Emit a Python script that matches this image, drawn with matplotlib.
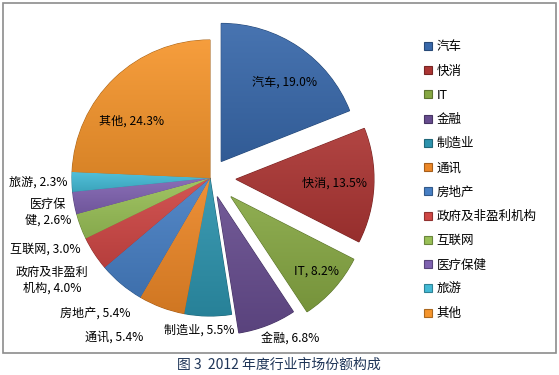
import numpy as np
import matplotlib
matplotlib.use("Agg")
import matplotlib.pyplot as plt
from matplotlib.colors import to_rgb

plt.rcParams['font.family'] = ['Noto Sans CJK SC', 'DejaVu Sans']

# data
categories = ["汽车", "快消", "IT", "金融", "制造业", "通讯", "房地产",
              "政府及非盈利机构", "互联网", "医疗保健", "旅游", "其他"]
shares = [19.0, 13.5, 8.2, 6.8, 5.5, 5.4, 5.4, 4.0, 3.0, 2.6, 2.3, 24.3]
label_text = ["汽车, 19.0%", "快消, 13.5%", "IT, 8.2%", "金融, 6.8%",
              "制造业, 5.5%", "通讯, 5.4%", "房地产, 5.4%",
              "政府及非盈利\n机构, 4.0%", "互联网, 3.0%", "医疗保\n健, 2.6%",
              "旅游, 2.3%", "其他, 24.3%"]

# styling / layout (pixel units, y measured from top)
W, H = 559, 375
colors = ["#3868aa", "#ab3533", "#86a743", "#664c8e", "#2d93ad", "#ec8727",
          "#477fc4", "#cf4745", "#99c057", "#7f62b0", "#43bad5", "#f5952c"]
explode = [20, 26, 28, 20, 0, 0, 0, 0, 0, 0, 0, 0]
label_pos = [(285, 82), (335, 183), (316, 271), (290, 338), (199, 330),
             (114, 337), (95, 313), (52, 280), (45, 249), (48, 212),
             (38, 182), (132, 121)]
pie_center = (210, 178)
pie_radius = 138


def shade_wedge(ax, wedge, color):
    # vertical gradient clipped to the wedge, a rough take on the excel bevel look
    ext = wedge.get_path().get_extents()
    rgb = np.array(to_rgb(color))
    light = rgb + (1 - rgb) * 0.08
    dark = rgb * 0.88
    t = np.linspace(0, 1, 80)[:, None, None]
    img = light * (1 - t) + dark * t
    img = np.repeat(img, 4, axis=1)
    im = ax.imshow(img, extent=(ext.x0, ext.x1, ext.y0, ext.y1), origin="upper",
                   aspect="auto", zorder=2, interpolation="bilinear")
    im.set_clip_path(wedge)


fig = plt.figure(figsize=(W / 100, H / 100), dpi=100)
ax = fig.add_axes([0, 0, 1, 1])

wedges, _ = ax.pie(shares, colors=colors, explode=explode, startangle=90,
                   counterclock=False, radius=pie_radius,
                   center=(pie_center[0], H - pie_center[1]),
                   wedgeprops=dict(linewidth=0.8, zorder=1))
for w, c in zip(wedges, colors):
    w.set_edgecolor(tuple(np.array(to_rgb(c)) * 0.7))
    shade_wedge(ax, w, c)

for txt, (x, y) in zip(label_text, label_pos):
    ax.text(x, H - y, txt, ha="center", va="center", fontsize=8.7,
            color="black", linespacing=1.25, zorder=5)

# chart border
ax.add_patch(plt.Rectangle((3, H - 353), 553, 350, fill=False,
                           edgecolor="#8c8c8c", linewidth=1.2, zorder=0))

leg = ax.legend(wedges, categories, loc="upper left",
                bbox_to_anchor=(418 / W, 1 - 34 / H), frameon=False,
                fontsize=9, handlelength=0.6, handleheight=0.6,
                handletextpad=0.4, labelspacing=0.9, borderpad=0)

ax.text(279, H - 365, "图 3  2012 年度行业市场份额构成", ha="center", va="center",
        fontsize=10, color="#1f3558")

ax.set_xlim(0, W)
ax.set_ylim(0, H)
ax.set_aspect("equal")
ax.axis("off")

fig.savefig("out.png", dpi=100)
